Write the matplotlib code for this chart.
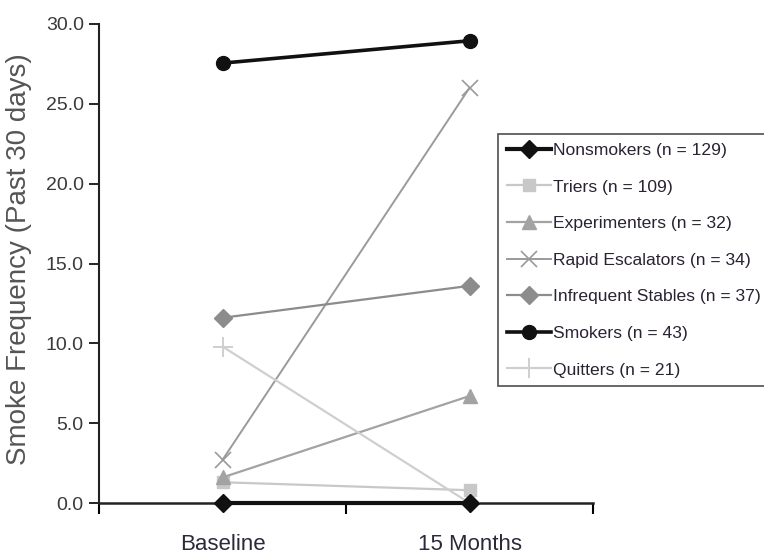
import matplotlib
matplotlib.use("Agg")
import matplotlib.pyplot as plt

categories = ["Baseline", "15 Months"]
series_names = ["Nonsmokers (n = 129)", "Triers (n = 109)", "Experimenters (n = 32)",
                "Rapid Escalators (n = 34)", "Infrequent Stables (n = 37)",
                "Smokers (n = 43)", "Quitters (n = 21)"]
nonsmokers = [0.0, 0.0]
triers = [1.3, 0.8]
experimenters = [1.6, 6.7]
rapid_escalators = [2.7, 26.0]
infrequent_stables = [11.6, 13.6]
smokers = [27.55, 28.95]
quitters = [9.8, 0.0]
yticks = [0.0, 5.0, 10.0, 15.0, 20.0, 25.0, 30.0]

font = 'Liberation Sans'

fig = plt.figure(figsize=(7.64, 5.56), dpi=100)
ax = fig.add_axes([99/764, 1-503/556, 494/764, 479/556])

xpos = [0.5, 1.5]
styles = [
    (nonsmokers, dict(color='#111111', marker='D', ms=9, lw=3.0, zorder=6)),
    (triers, dict(color='#c8c8c8', marker='s', ms=9, lw=1.6, zorder=3)),
    (experimenters, dict(color='#a3a3a3', marker='^', ms=10, lw=1.6, zorder=3)),
    (rapid_escalators, dict(color='#9a9a9a', marker='x', ms=11, mew=1.2, lw=1.4, zorder=3)),
    (infrequent_stables, dict(color='#8c8c8c', marker='D', ms=9, lw=1.6, zorder=3)),
    (smokers, dict(color='#111111', marker='o', ms=10, lw=2.6, zorder=5)),
    (quitters, dict(color='#cfcfcf', marker='+', ms=14, mew=1.4, lw=1.6, zorder=3)),
]
for (vals, st), name in zip(styles, series_names):
    ax.plot(xpos, vals, label=name, clip_on=False, **st)

ax.set_xlim(0, 2)
ax.set_ylim(0, 30)
ax.set_yticks(yticks)
ax.set_yticklabels([f"{v:.1f}" for v in yticks], fontsize=14, color='#3a3a3a', family=font)
ax.set_xticks([0, 1, 2])
ax.set_xticklabels([])
ax.set_xticks(xpos, minor=True)
ax.set_xticklabels(categories, minor=True, fontsize=16, family=font, color='#2a2a3a')
ax.tick_params(axis='x', which='minor', length=0, pad=22)
ax.tick_params(axis='x', which='major', length=8, width=1.5, direction='out')
ax.tick_params(axis='y', length=7, width=1.2, direction='out', pad=4)
for s in ['top', 'right']:
    ax.spines[s].set_visible(False)
ax.spines['left'].set_linewidth(1.5)
ax.spines['bottom'].set_linewidth(1.8)
ax.spines['left'].set_color('#222222')
ax.spines['bottom'].set_color('#222222')
ax.set_ylabel("Smoke Frequency (Past 30 days)", fontsize=20, color='#555555', family=font)
ax.yaxis.set_label_coords(-0.136, 0.51)

leg = fig.legend(loc='upper left', bbox_to_anchor=(498/764, 1-134/556),
                 prop={'family': font, 'size': 12.6}, frameon=True, fancybox=False,
                 edgecolor='#222222', handlelength=2.5, handletextpad=0.17,
                 labelspacing=1.22, borderpad=0.5, borderaxespad=0)
leg.get_frame().set_linewidth(1.2)
for t in leg.get_texts():
    t.set_color('#2a2233')

fig.savefig("out.png", dpi=100)
